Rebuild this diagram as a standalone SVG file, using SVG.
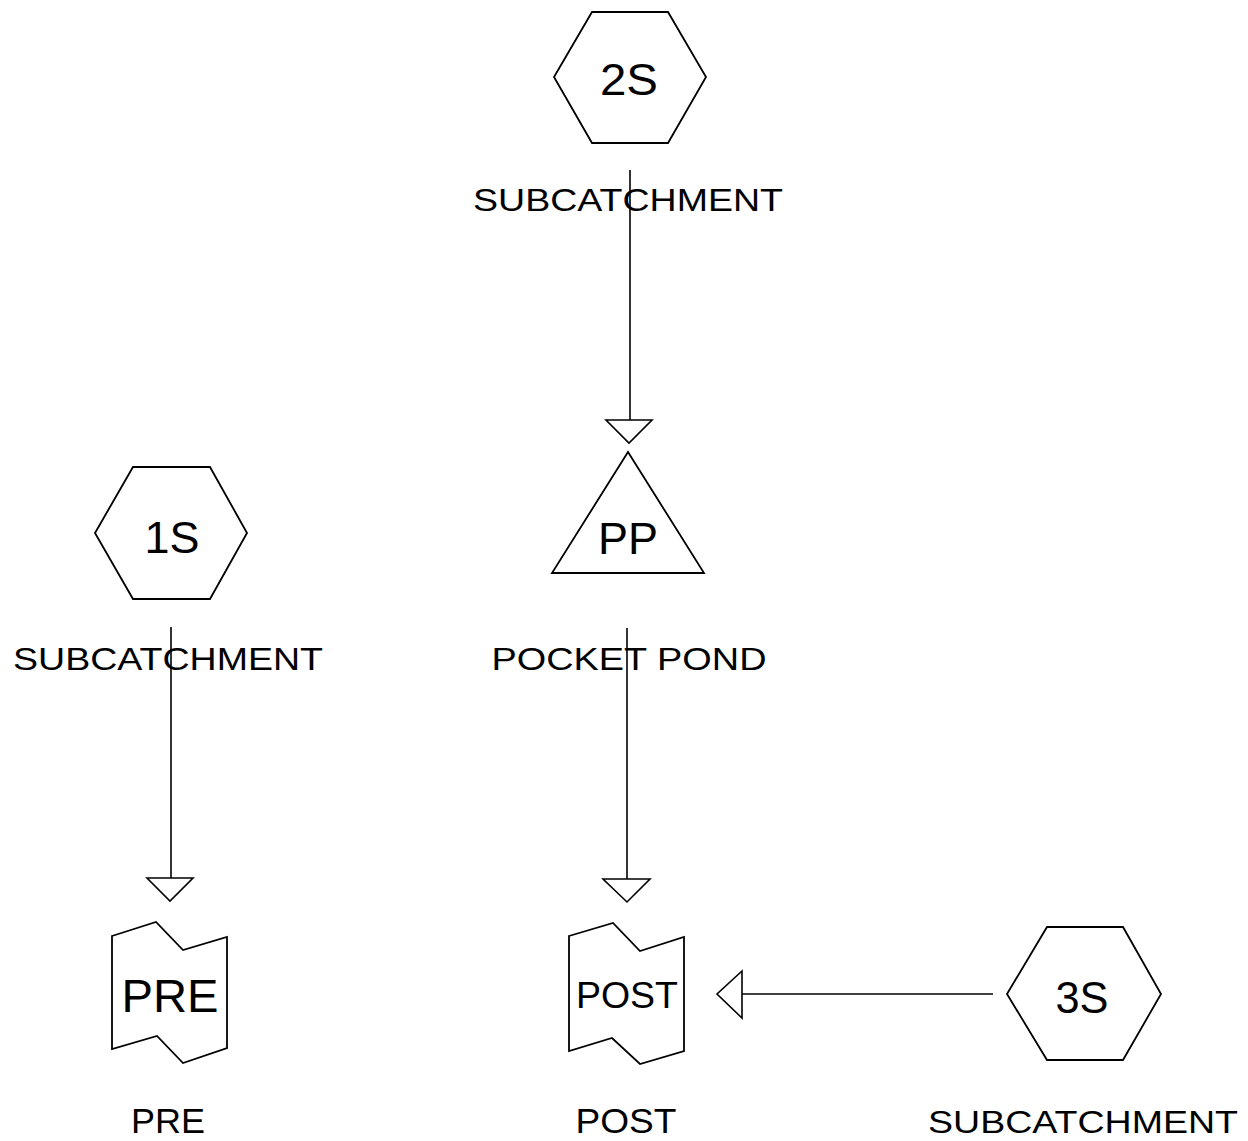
<svg xmlns="http://www.w3.org/2000/svg" width="1248" height="1141" viewBox="0 0 1248 1141">
<style>
.shape{fill:#fff;stroke:#000;stroke-width:1.8;stroke-linejoin:miter}
.edge{fill:none;stroke:#000;stroke-width:1.6}
.head{fill:#fff;stroke:#000;stroke-width:1.6}
.t{font-family:"Liberation Sans",Arial,sans-serif;fill:#000;text-anchor:middle}
.big{font-size:45px}
.lab{font-size:32px}
</style>
<rect width="1248" height="1141" fill="#fff"/>
<g id="connectors">
<line class="edge" x1="630" y1="170" x2="630" y2="420"/>
<polygon class="head" points="606,420 652,420 629,443"/>
<line class="edge" x1="171" y1="627" x2="171" y2="878"/>
<polygon class="head" points="147,878 193,878 170,901"/>
<line class="edge" x1="627" y1="628" x2="627" y2="879"/>
<polygon class="head" points="603,879 650,879 627,902"/>
<line class="edge" x1="993" y1="994" x2="742" y2="994"/>
<polygon class="head" points="742,971 742,1018 717,994"/>
</g>
<g id="node-2S">
<polygon class="shape" points="592,12 668,12 706,77 668,143 592,143 554,77"/>
<text class="t big" x="629" y="95" textLength="58" lengthAdjust="spacingAndGlyphs">2S</text>
<text class="t lab" x="628" y="211" textLength="310" lengthAdjust="spacingAndGlyphs">SUBCATCHMENT</text>
</g>
<g id="node-1S">
<polygon class="shape" points="133,467 210,467 247,533 210,599 133,599 95,533"/>
<text class="t big" x="172" y="553" textLength="55" lengthAdjust="spacingAndGlyphs">1S</text>
<text class="t lab" x="168" y="670" textLength="310" lengthAdjust="spacingAndGlyphs">SUBCATCHMENT</text>
</g>
<g id="node-PP">
<polygon class="shape" points="628,452 704,573 552,573"/>
<text class="t big" x="628" y="554" textLength="60" lengthAdjust="spacingAndGlyphs">PP</text>
<text class="t lab" x="629" y="670" textLength="275" lengthAdjust="spacingAndGlyphs">POCKET POND</text>
</g>
<g id="node-3S">
<polygon class="shape" points="1047,927 1123,927 1161,994 1123,1060 1047,1060 1007,994"/>
<text class="t big" x="1082" y="1013" textLength="53" lengthAdjust="spacingAndGlyphs">3S</text>
<text class="t lab" x="1083" y="1133" textLength="310" lengthAdjust="spacingAndGlyphs">SUBCATCHMENT</text>
</g>
<g id="node-PRE">
<path class="shape" d="M112,936 L156,922 L183,950 L227,937 L227,1048 L183,1063 L157,1036 L112,1049 Z"/>
<text class="t" x="170" y="1012" font-size="47" textLength="97" lengthAdjust="spacingAndGlyphs">PRE</text>
<text class="t" x="168" y="1133" font-size="35" textLength="74" lengthAdjust="spacingAndGlyphs">PRE</text>
</g>
<g id="node-POST">
<path class="shape" d="M569,936 L613,923 L640,951 L684,937 L684,1051 L640,1064 L612,1038 L569,1051 Z"/>
<text class="t" x="627" y="1008" font-size="37" textLength="102" lengthAdjust="spacingAndGlyphs">POST</text>
<text class="t" x="626" y="1133" font-size="35" textLength="101" lengthAdjust="spacingAndGlyphs">POST</text>
</g>
</svg>
